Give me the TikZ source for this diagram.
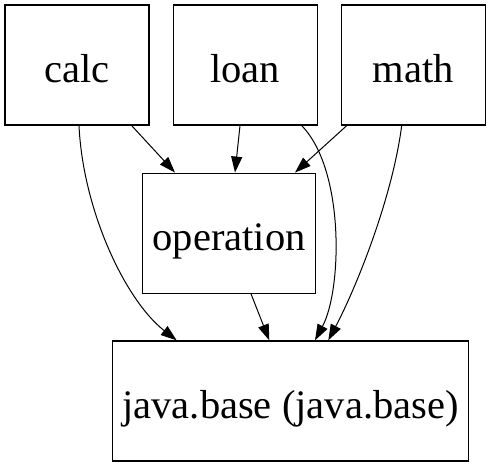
\documentclass[tikz,border=0pt]{standalone}
\usepackage{fontspec}
\setmainfont{Liberation Serif}
\usepackage{tikz}
\usetikzlibrary{arrows.meta}

\begin{document}
\begin{tikzpicture}[x=1pt,y=1pt,line width=1pt,
  mod/.style={draw,line width=1.3pt,minimum width=144pt,minimum height=120pt,inner sep=0pt,text height=34pt,text depth=0pt,font=\fontsize{40.5}{48}\selectfont},
  dep/.style={-{Triangle[length=16pt,width=11pt]}}]
\useasboundingbox (0,0) rectangle (491,-467);
\node[mod] (calc) at (77,-65) {calc};
\node[mod] (loan) at (245.3,-65) {loan};
\node[mod] (math) at (413.2,-65) {math};
\node[mod,minimum width=173pt] (operation) at (229.2,-233.2) {operation};
\node[mod,minimum width=355.6pt] (javabase) at (290.5,-401) {java.base (java.base)};
% edges into operation
\draw[dep] ([xshift=54.7pt]calc.south) -- ([xshift=-54.2pt]operation.north);
\draw[dep] ([xshift=-5.3pt]loan.south) -- ([xshift=5.8pt]operation.north);
\draw[dep] ([xshift=-66.5pt]math.south) -- ([xshift=65.8pt]operation.north);
% edges into java.base
\draw[dep] ([xshift=2pt]calc.south) .. controls (83,-210) and (125,-300) .. ([xshift=-113.8pt]javabase.north);
\draw[dep] ([xshift=56.4pt]loan.south) .. controls (345,-170) and (342,-290) .. ([xshift=24.5pt]javabase.north);
\draw[dep] ([xshift=-11.5pt]math.south) .. controls (392,-200) and (355,-290) .. ([xshift=37.8pt]javabase.north);
\draw[dep] ([xshift=21.8pt]operation.south) -- ([xshift=-21.2pt]javabase.north);
\end{tikzpicture}
\end{document}
